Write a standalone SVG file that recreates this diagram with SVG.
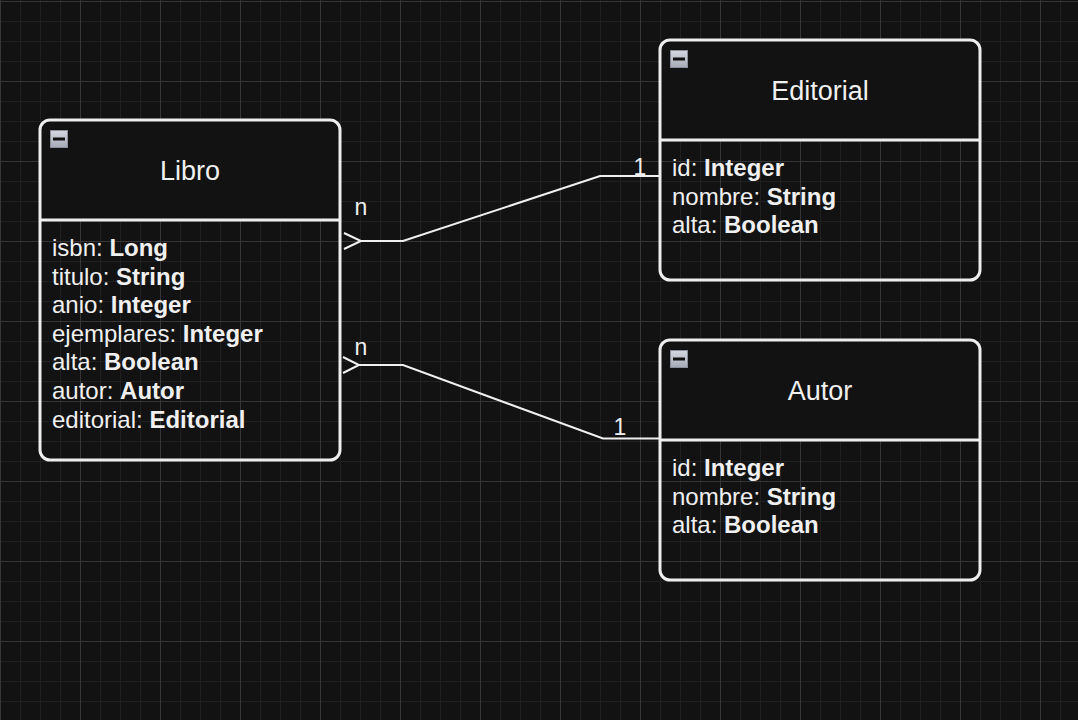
<svg xmlns="http://www.w3.org/2000/svg" width="1078" height="720" viewBox="0 0 1078 720">
  <defs>
    <pattern id="grid" patternUnits="userSpaceOnUse" x="0" y="1" width="80" height="80">
      <rect width="80" height="80" fill="#121212"/>
      <path d="M20.5,0V80M40.5,0V80M60.5,0V80M0,20.5H80M0,40.5H80M0,60.5H80" stroke="#202020" stroke-width="1" fill="none"/>
      <path d="M0.5,0V80M0,0.5H80" stroke="#363636" stroke-width="1" fill="none"/>
    </pattern>
    <linearGradient id="iconGrad" x1="0" y1="0" x2="0" y2="1">
      <stop offset="0" stop-color="#d6d8e0"/>
      <stop offset="1" stop-color="#a6aab6"/>
    </linearGradient>
  </defs>
  <style>
    .frame { fill: none; stroke: #eeeeee; stroke-width: 3; }
    .head { fill: #121212; }
    .sep { stroke: #eeeeee; stroke-width: 3; }
    .title { font-family: "Liberation Sans", Arial, sans-serif; font-size: 27px; fill: #f0f0f0; text-anchor: middle; }
    .attr { font-family: "Liberation Sans", Arial, sans-serif; font-size: 24px; fill: #f0f0f0; }
    .attr tspan.b { font-weight: bold; }
    .icon { fill: url(#iconGrad); stroke: #8a8e9a; stroke-width: 1; }
    .minus { fill: #111111; }
    .edge { fill: none; stroke: #f0f0f0; stroke-width: 2; }
    .lbl { font-family: "Liberation Sans", Arial, sans-serif; font-size: 23px; fill: #f0f0f0; text-anchor: middle; }
  </style>
  <rect width="1078" height="720" fill="url(#grid)"/>

  <g id="connectors">
    <g id="libro-editorial">
      <polyline class="edge" points="361,241 403,241 600,176 660,176"/>
      <path class="edge" d="M344,233 L361,241 L344,249"/>
      <text class="lbl" x="361" y="215">n</text>
      <text class="lbl" x="640" y="175">1</text>
    </g>
    <g id="libro-autor">
      <polyline class="edge" points="359,365 403,365 603,438.5 660,438.5"/>
      <path class="edge" d="M343,357 L359,365 L343,373"/>
      <text class="lbl" x="361" y="355">n</text>
      <text class="lbl" x="620" y="435">1</text>
    </g>
  </g>

  <g id="libro">
    <path class="head" d="M40,220 V130 Q40,120 50,120 H330 Q340,120 340,130 V220 Z"/>
    <rect class="frame" x="40" y="120" width="300" height="340" rx="10"/>
    <line class="sep" x1="40" y1="220" x2="340" y2="220"/>
    <rect class="icon" x="50.5" y="130.5" width="17" height="17"/>
    <rect class="minus" x="53" y="137.5" width="12" height="3"/>
    <text class="title" x="190" y="180">Libro</text>
    <text class="attr" x="52" y="256">isbn: <tspan class="b">Long</tspan></text>
    <text class="attr" x="52" y="284.6">titulo: <tspan class="b">String</tspan></text>
    <text class="attr" x="52" y="313.2">anio: <tspan class="b">Integer</tspan></text>
    <text class="attr" x="52" y="341.8">ejemplares: <tspan class="b">Integer</tspan></text>
    <text class="attr" x="52" y="370.4">alta: <tspan class="b">Boolean</tspan></text>
    <text class="attr" x="52" y="399">autor: <tspan class="b">Autor</tspan></text>
    <text class="attr" x="52" y="427.6">editorial: <tspan class="b">Editorial</tspan></text>
  </g>

  <g id="editorial">
    <path class="head" d="M660,140 V50 Q660,40 670,40 H970 Q980,40 980,50 V140 Z"/>
    <rect class="frame" x="660" y="40" width="320" height="240" rx="10"/>
    <line class="sep" x1="660" y1="140" x2="980" y2="140"/>
    <rect class="icon" x="670.5" y="50.5" width="17" height="17"/>
    <rect class="minus" x="673" y="57.5" width="12" height="3"/>
    <text class="title" x="820" y="100">Editorial</text>
    <text class="attr" x="672" y="176">id: <tspan class="b">Integer</tspan></text>
    <text class="attr" x="672" y="204.6">nombre: <tspan class="b">String</tspan></text>
    <text class="attr" x="672" y="233.2">alta: <tspan class="b">Boolean</tspan></text>
  </g>

  <g id="autor">
    <path class="head" d="M660,440 V350 Q660,340 670,340 H970 Q980,340 980,350 V440 Z"/>
    <rect class="frame" x="660" y="340" width="320" height="240" rx="10"/>
    <line class="sep" x1="660" y1="440" x2="980" y2="440"/>
    <rect class="icon" x="670.5" y="350.5" width="17" height="17"/>
    <rect class="minus" x="673" y="357.5" width="12" height="3"/>
    <text class="title" x="820" y="400">Autor</text>
    <text class="attr" x="672" y="476">id: <tspan class="b">Integer</tspan></text>
    <text class="attr" x="672" y="504.6">nombre: <tspan class="b">String</tspan></text>
    <text class="attr" x="672" y="533.2">alta: <tspan class="b">Boolean</tspan></text>
  </g>
</svg>
